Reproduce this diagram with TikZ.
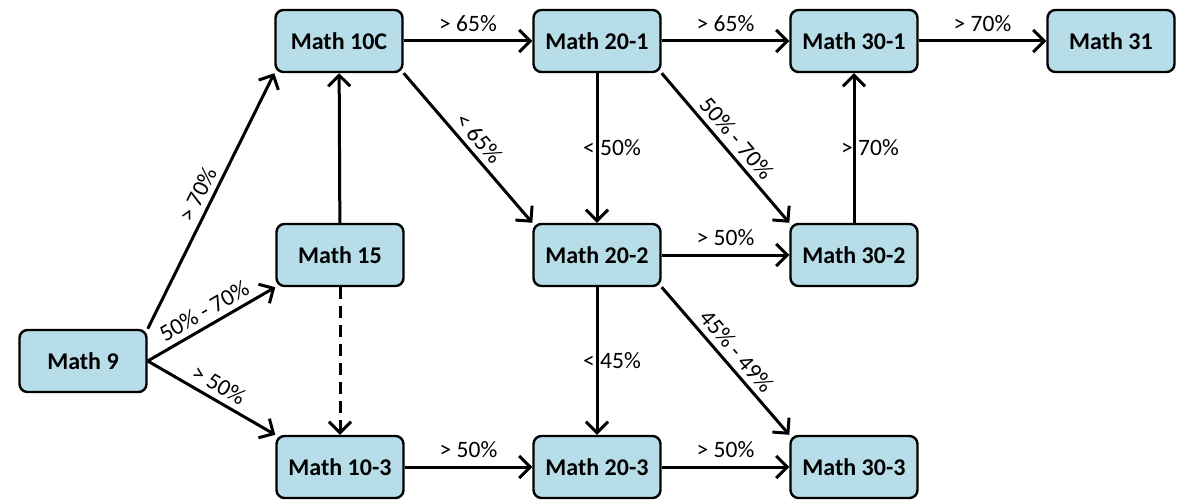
\documentclass[tikz,border=0pt]{standalone}
\usepackage{fontspec}
\setmainfont{Carlito}
\usetikzlibrary{arrows.meta}
\definecolor{coursecolor0000}{RGB}{183,222,232}
\definecolor{coursecolor0001}{RGB}{0,0,0}
\begin{document}
\begin{tikzpicture}[
course/.style={draw=coursecolor0001,fill=coursecolor0000,line width=2.4pt,rounded corners=8pt,minimum width=127pt,minimum height=62pt,inner sep=0pt,font=\fontsize{24}{28}\selectfont\bfseries}
,link/.style={color=coursecolor0001,line width=3pt,-{Straight Barb[length=11pt,width=22pt,line width=3pt]}}
,cond/.style={color=coursecolor0001,font=\fontsize{23.5}{27}\selectfont}
,slope/.style={cond,sloped,above=2pt}
]
\useasboundingbox (0pt,0pt) rectangle (1179pt,-500pt);
\node[course] (m9) at (83pt,-361pt) {Math 9};
\node[course] (m10c) at (339pt,-41pt) {Math 10C};
\node[course] (m15) at (340pt,-255pt) {Math 15};
\node[course] (m103) at (340pt,-467pt) {Math 10-3};
\node[course] (m201) at (597pt,-41pt) {Math 20-1};
\node[course] (m202) at (597pt,-255pt) {Math 20-2};
\node[course] (m203) at (597pt,-467pt) {Math 20-3};
\node[course] (m301) at (854pt,-41pt) {Math 30-1};
\node[course] (m302) at (854pt,-255pt) {Math 30-2};
\node[course] (m303) at (854pt,-467pt) {Math 30-3};
\node[course] (m31) at (1111pt,-41pt) {Math 31};
\draw[link] (m9.north east) -- node[slope]{> 70\%} (m10c.south west);
\draw[link] (m9.east) -- node[slope]{50\% - 70\%} (m15.south west);
\draw[link] (m9.east) -- node[slope]{> 50\%} (m103.north west);
\draw[link] (m15) -- (m10c);
\draw[link,dash pattern=on 12pt off 7pt] (m15) -- (m103);
\draw[link] (m10c) -- node[cond,above=4pt]{> 65\%} (m201);
\draw[link] (m10c.south east) -- node[slope]{< 65\%} (m202.north west);
\draw[link] (m201) -- node[cond,above=4pt]{> 65\%} (m301);
\draw[link] (m201) -- node[cond,xshift=15pt]{< 50\%} (m202);
\draw[link] (m201.south east) -- node[slope]{50\% - 70\%} (m302.north west);
\draw[link] (m302) -- node[cond,xshift=16pt]{> 70\%} (m301);
\draw[link] (m301) -- node[cond,above=4pt]{> 70\%} (m31);
\draw[link] (m202) -- node[cond,above=4pt]{> 50\%} (m302);
\draw[link] (m202) -- node[cond,xshift=15pt]{< 45\%} (m203);
\draw[link] (m202.south east) -- node[slope]{45\% - 49\%} (m303.north west);
\draw[link] (m103) -- node[cond,above=4pt]{> 50\%} (m203);
\draw[link] (m203) -- node[cond,above=4pt]{> 50\%} (m303);
\end{tikzpicture}
\end{document}
